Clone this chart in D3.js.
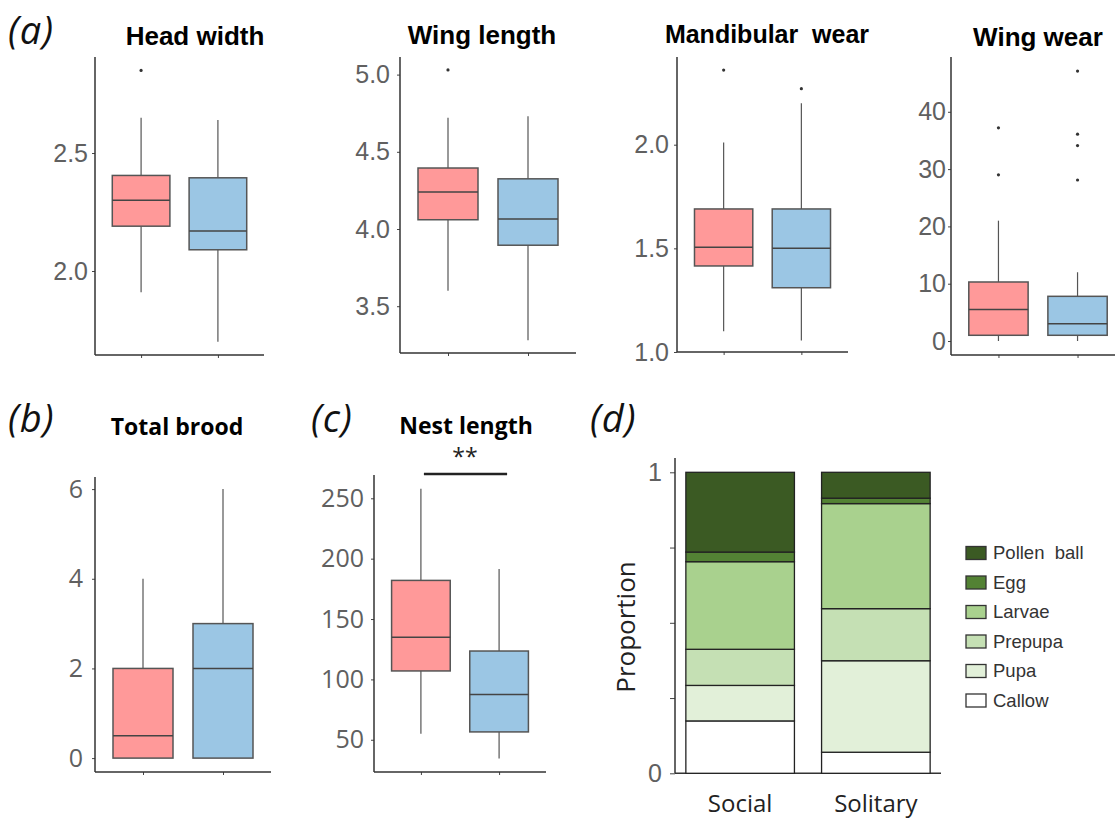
<!DOCTYPE html>
<html>
<head>
<meta charset="utf-8">
<script src="https://cdn.jsdelivr.net/npm/d3@7"></script>
<style>
  html, body { margin: 0; padding: 0; background: #ffffff; }
  svg { display: block; }
</style>
</head>
<body>
<svg id="fig" width="1115" height="820"></svg>
<script>
// ---- data -------------------------------------------------------------
const groups = ["Social", "Solitary"];

// five-number summaries: [lower whisker, Q1, median, Q3, upper whisker]
const headWidthSocial = [1.91, 2.19, 2.30, 2.405, 2.65];
const headWidthSolitary = [1.70, 2.09, 2.17, 2.395, 2.64];
const headWidthOutliers = [[2.85], []];
const headWidthTicks = [2.0, 2.5];

const wingLengthSocial = [3.60, 4.06, 4.24, 4.395, 4.72];
const wingLengthSolitary = [3.28, 3.895, 4.065, 4.325, 4.73];
const wingLengthOutliers = [[5.03], []];
const wingLengthTicks = [3.5, 4.0, 4.5, 5.0];

const mandibularSocial = [1.10, 1.415, 1.505, 1.69, 2.01];
const mandibularSolitary = [1.055, 1.31, 1.50, 1.69, 2.20];
const mandibularOutliers = [[2.36], [2.27]];
const mandibularTicks = [1.0, 1.5, 2.0];

const wingWearSocial = [0, 1, 5.5, 10.3, 21];
const wingWearSolitary = [0, 1, 3, 7.8, 12];
const wingWearOutliers = [[29, 37.2], [28.1, 34.1, 36.1, 47.1]];
const wingWearTicks = [0, 10, 20, 30, 40];

const broodSocial = [0, 0, 0.5, 2, 4];
const broodSolitary = [0, 0, 2, 3, 6];
const broodTicks = [0, 2, 4, 6];

const nestSocial = [55, 107, 135, 182, 258];
const nestSolitary = [34.5, 56.5, 87.5, 123.5, 191.5];
const nestTicks = [50, 100, 150, 200, 250];

// brood stage composition, bottom to top
const stages = ["Callow", "Pupa", "Prepupa", "Larvae", "Egg", "Pollen ball"];
const stageSocial = [0.174, 0.118, 0.120, 0.291, 0.032, 0.265];
const stageSolitary = [0.070, 0.304, 0.173, 0.349, 0.018, 0.086];
const proportionTicks = [0, 0.25, 0.5, 0.75, 1];

// ---- styles -----------------------------------------------------------
const groupFill = { Social: "#ff9999", Solitary: "#9bc6e4" };
const stageFill = {
  "Pollen ball": "#3b5a23",
  "Egg": "#538234",
  "Larvae": "#a9d18e",
  "Prepupa": "#c5e0b4",
  "Pupa": "#e2f0d9",
  "Callow": "#ffffff"
};
const svg = d3.select("#fig");

function drawBoxPanel(cfg) {
  const g = svg.append("g");
  const y = d3.scaleLinear().domain(cfg.domain).range([cfg.bottom, cfg.top]);
  const x = d3.scalePoint().domain(groups).range([cfg.left, cfg.right]).padding(0.6);
  const bw = x.step() * 0.75;

  // y axis
  const yAxis = g.append("g")
    .attr("transform", `translate(${cfg.left},0)`)
    .call(d3.axisLeft(y).tickValues(cfg.ticks).tickSize(3).tickPadding(cfg.pad)
      .tickFormat(cfg.fmt));
  yAxis.select(".domain").remove();
  yAxis.selectAll(".tick line").attr("stroke", "#444").attr("stroke-width", 1);
  yAxis.selectAll(".tick text")
    .attr("font-family", cfg.tickFont).attr("font-size", cfg.tickSize)
    .attr("fill", "#606060");
  g.append("line").attr("x1", cfg.left).attr("x2", cfg.left)
    .attr("y1", cfg.top).attr("y2", cfg.bottom)
    .attr("stroke", "#333").attr("stroke-width", 1.5);

  // x axis
  const xAxis = g.append("g")
    .attr("transform", `translate(0,${cfg.bottom})`)
    .call(d3.axisBottom(x).tickSize(3).tickFormat(""));
  xAxis.select(".domain").remove();
  xAxis.selectAll(".tick line").attr("stroke", "#444").attr("stroke-width", 1);
  g.append("line").attr("x1", cfg.left).attr("x2", cfg.right)
    .attr("y1", cfg.bottom).attr("y2", cfg.bottom)
    .attr("stroke", "#333").attr("stroke-width", 1.5);

  // boxes
  groups.forEach((grp, i) => {
    const s = cfg.stats[i];
    const cx = x(grp);
    g.append("line").attr("x1", cx).attr("x2", cx)
      .attr("y1", y(s[0])).attr("y2", y(s[1]))
      .attr("stroke", "#555").attr("stroke-width", 1.2);
    g.append("line").attr("x1", cx).attr("x2", cx)
      .attr("y1", y(s[3])).attr("y2", y(s[4]))
      .attr("stroke", "#555").attr("stroke-width", 1.2);
    g.append("rect")
      .attr("x", cx - bw / 2).attr("width", bw)
      .attr("y", y(s[3])).attr("height", y(s[1]) - y(s[3]))
      .attr("fill", groupFill[grp]).attr("stroke", "#555").attr("stroke-width", 1.5);
    g.append("line").attr("x1", cx - bw / 2).attr("x2", cx + bw / 2)
      .attr("y1", y(s[2])).attr("y2", y(s[2]))
      .attr("stroke", "#444").attr("stroke-width", 1.5);
    (cfg.outliers ? cfg.outliers[i] : []).forEach(v => {
      g.append("circle").attr("cx", cx).attr("cy", y(v)).attr("r", 1.6).attr("fill", "#333");
    });
  });

  // title
  g.append("text")
    .attr("x", cfg.titleX).attr("y", cfg.titleY)
    .attr("text-anchor", "middle")
    .attr("font-family", cfg.titleFont).attr("font-weight", "bold")
    .attr("font-size", cfg.titleSize).attr("fill", "#000")
    .attr("xml:space", "preserve")
    .text(cfg.title);
  return { g, x, y };
}

const fmt1 = d3.format(".1f");
const fmt0 = d3.format("d");
const arial = "'Liberation Sans', Arial, sans-serif";
const sans = "'Open Sans', 'Noto Sans', sans-serif";

// ---- row (a) ----------------------------------------------------------
drawBoxPanel({ left: 95, right: 264, top: 57, bottom: 355, domain: [1.644, 2.907],
  ticks: headWidthTicks, fmt: fmt1, pad: 4, tickFont: arial, tickSize: 25,
  stats: [headWidthSocial, headWidthSolitary], outliers: headWidthOutliers,
  title: "Head width", titleX: 195, titleY: 45, titleFont: arial, titleSize: 26 });

drawBoxPanel({ left: 400, right: 576, top: 57, bottom: 353, domain: [3.197, 5.114],
  ticks: wingLengthTicks, fmt: fmt1, pad: 7, tickFont: arial, tickSize: 25,
  stats: [wingLengthSocial, wingLengthSolitary], outliers: wingLengthOutliers,
  title: "Wing length", titleX: 482, titleY: 44, titleFont: arial, titleSize: 26 });

drawBoxPanel({ left: 677, right: 848, top: 57, bottom: 352, domain: [1.0, 2.423],
  ticks: mandibularTicks, fmt: fmt1, pad: 5, tickFont: arial, tickSize: 25,
  stats: [mandibularSocial, mandibularSolitary], outliers: mandibularOutliers,
  title: "Mandibular  wear", titleX: 767, titleY: 43, titleFont: arial, titleSize: 25 });

drawBoxPanel({ left: 951, right: 1125, top: 57, bottom: 355, domain: [-2.44, 49.56],
  ticks: wingWearTicks, fmt: fmt0, pad: 2, tickFont: arial, tickSize: 25,
  stats: [wingWearSocial, wingWearSolitary], outliers: wingWearOutliers,
  title: "Wing wear", titleX: 1038, titleY: 46, titleFont: arial, titleSize: 26 });

// ---- row (b), (c) -----------------------------------------------------
drawBoxPanel({ left: 95, right: 271, top: 477, bottom: 772, domain: [-0.31, 6.27],
  ticks: broodTicks, fmt: fmt0, pad: 9, tickFont: sans, tickSize: 25,
  stats: [broodSocial, broodSolitary],
  title: "Total brood", titleX: 177, titleY: 435, titleFont: sans, titleSize: 23 });

const nest = drawBoxPanel({ left: 374, right: 546, top: 475, bottom: 772, domain: [23.3, 269.3],
  ticks: nestTicks, fmt: fmt0, pad: 7, tickFont: sans, tickSize: 25,
  stats: [nestSocial, nestSolitary],
  title: "Nest length", titleX: 466, titleY: 434, titleFont: sans, titleSize: 23 });

// significance bar between the two nest-length groups
nest.g.append("line")
  .attr("x1", nest.x("Social") + 3).attr("x2", nest.x("Solitary") + 8)
  .attr("y1", 474).attr("y2", 474)
  .attr("stroke", "#222").attr("stroke-width", 2.5);
nest.g.append("text")
  .attr("x", 465).attr("y", 465).attr("text-anchor", "middle")
  .attr("font-family", sans).attr("font-size", 23).attr("fill", "#222")
  .text("**");

// ---- panel (d): stacked proportions ----------------------------------
(function () {
  const g = svg.append("g");
  const left = 675, right = 941, top = 458, bottom = 773.3;
  const y = d3.scaleLinear().domain([0, 1]).range([773.3, 472.3]);
  const x = d3.scaleBand().domain(groups).range([left, right]).paddingInner(0.2).paddingOuter(0.08);

  const yAxis = g.append("g").attr("transform", `translate(${left},0)`)
    .call(d3.axisLeft(y).tickValues(proportionTicks).tickSize(5).tickPadding(8)
      .tickFormat(d => (d === 0 || d === 1) ? fmt0(d) : ""));
  yAxis.select(".domain").remove();
  yAxis.selectAll(".tick line").attr("stroke", "#444").attr("stroke-width", 1);
  yAxis.selectAll(".tick text").attr("font-family", arial).attr("font-size", 25).attr("fill", "#606060");
  g.append("line").attr("x1", left).attr("x2", left).attr("y1", top).attr("y2", bottom)
    .attr("stroke", "#333").attr("stroke-width", 1.5);
  g.append("line").attr("x1", left).attr("x2", right).attr("y1", bottom).attr("y2", bottom)
    .attr("stroke", "#333").attr("stroke-width", 1.5);

  const rows = groups.map((grp, i) => {
    const vals = i === 0 ? stageSocial : stageSolitary;
    const r = { group: grp };
    stages.forEach((s, k) => { r[s] = vals[k]; });
    return r;
  });
  const series = d3.stack().keys(stages)(rows);
  series.forEach(layer => {
    g.selectAll(null).data(layer).enter().append("rect")
      .attr("x", d => x(d.data.group))
      .attr("width", x.bandwidth())
      .attr("y", d => y(d[1]))
      .attr("height", d => y(d[0]) - y(d[1]))
      .attr("fill", stageFill[layer.key])
      .attr("stroke", "#222").attr("stroke-width", 1.3);
  });

  g.selectAll(null).data(groups).enter().append("text")
    .attr("x", d => x(d) + x.bandwidth() / 2).attr("y", 812)
    .attr("text-anchor", "middle").attr("font-family", sans).attr("font-size", 24)
    .attr("fill", "#222").text(d => d);

  g.append("text")
    .attr("transform", "translate(635,627) rotate(-90)")
    .attr("text-anchor", "middle").attr("font-family", sans).attr("font-size", 26)
    .attr("fill", "#222").text("Proportion");

  // legend, top stage first
  const legendOrder = stages.slice().reverse();
  const lg = g.append("g");
  legendOrder.forEach((s, i) => {
    const cy = 553 + i * 29.5;
    lg.append("rect").attr("x", 966).attr("y", cy - 6.5).attr("width", 20).attr("height", 13)
      .attr("fill", stageFill[s]).attr("stroke", "#333").attr("stroke-width", 1.3);
    lg.append("text").attr("x", 993).attr("y", cy).attr("dy", "0.35em")
      .attr("font-family", arial).attr("font-size", 18.5).attr("fill", "#333")
      .attr("xml:space", "preserve")
      .text(s === "Pollen ball" ? "Pollen  ball" : s);
  });
})();

// ---- panel letters ------------------------------------------------------
const letters = [
  { t: "(a)", x: 8, y: 44 },
  { t: "(b)", x: 8, y: 432 },
  { t: "(c)", x: 311, y: 432 },
  { t: "(d)", x: 590, y: 432 }
];
svg.selectAll(null).data(letters).enter().append("text")
  .attr("x", d => d.x).attr("y", d => d.y)
  .attr("font-family", sans).attr("font-style", "italic").attr("font-size", 38)
  .attr("letter-spacing", 1)
  .attr("fill", "#111").text(d => d.t);
</script>
</body>
</html>
